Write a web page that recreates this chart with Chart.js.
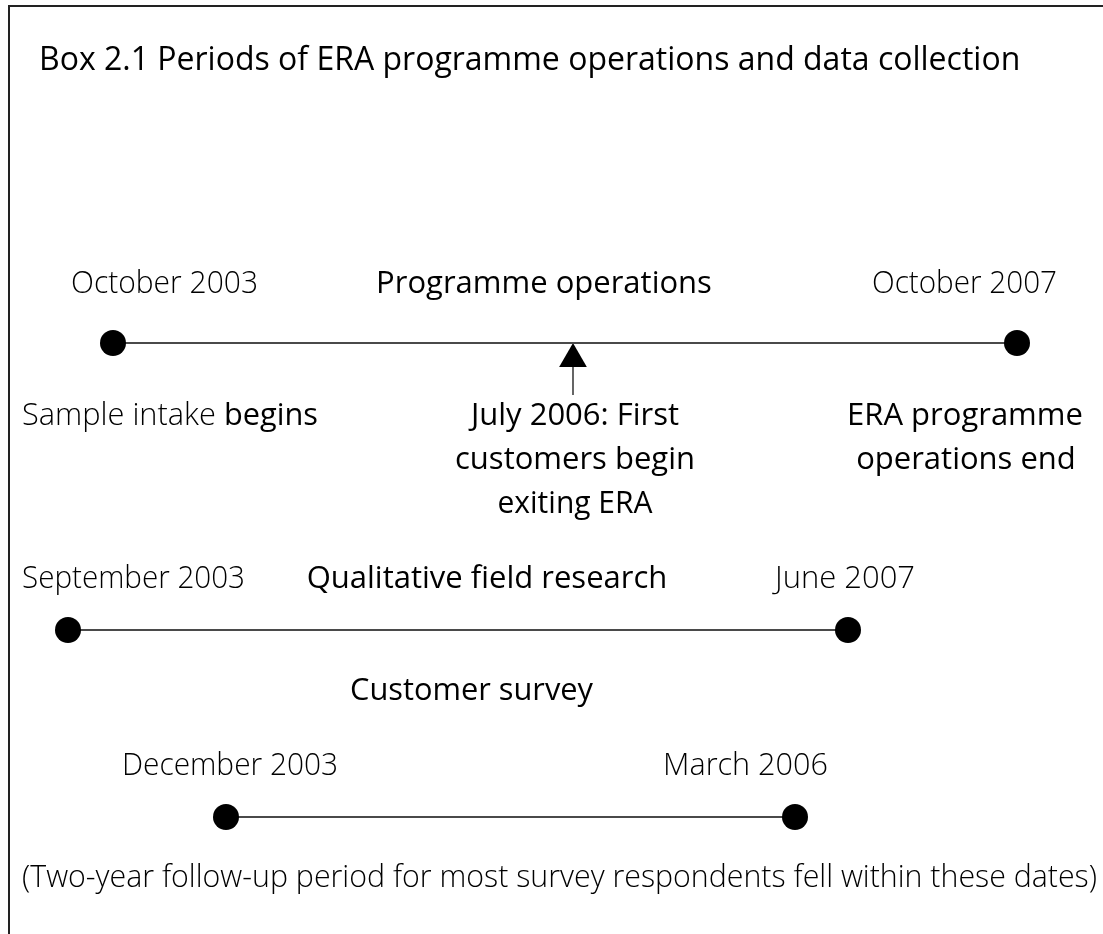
<!DOCTYPE html>
<html>
<head>
<meta charset="utf-8">
<script src="https://cdn.jsdelivr.net/npm/chart.js@4.4.1/dist/chart.umd.min.js"></script>
<style>
  body { margin: 0; background: #fff; }
  canvas { display: block; }
</style>
</head>
<body>
<canvas id="timeline" width="1103" height="934"></canvas>
<script>
// Timeline rows: schematic position along the line, and the row each period sits on
const periodNames = ['Programme operations', 'Qualitative field research', 'Customer survey'];
const startLabels = ['October 2003', 'September 2003', 'December 2003'];
const endLabels = ['October 2007', 'June 2007', 'March 2006'];
const startPos = [113, 68, 226];
const endPos = [1017, 848, 795];
const rowPos = [343, 630, 817];

// Milestone on the first row
const milestoneLabel = ['July 2006: First', 'customers begin', 'exiting ERA'];
const milestonePos = 573;

const titleText = 'Box 2.1 Periods of ERA programme operations and data collection';
const footText = '(Two-year follow-up period for most survey respondents fell within these dates)';

const FONT = '"Open Sans", "Noto Sans", sans-serif';
const MED = 500;   // heading weight
const LIGHT = 300; // date weight

// Build one line dataset per period
let datasets = periodNames.map((name, i) => ({
  label: name,
  data: [{ x: startPos[i], y: rowPos[i] }, { x: endPos[i], y: rowPos[i] }],
  borderColor: '#4a4a4a',
  borderWidth: 2,
  pointRadius: 13,
  pointBackgroundColor: '#000',
  pointBorderWidth: 0,
  showLine: true
}));

// arrow head (triangle point) and its stem
datasets.push({
  label: 'arrow',
  data: [{ x: milestonePos, y: rowPos[0] + 16 }],
  pointStyle: 'triangle',
  pointRadius: 16,
  pointBackgroundColor: '#000',
  pointBorderWidth: 0,
  showLine: false
});
datasets.push({
  label: 'stem',
  data: [{ x: milestonePos, y: rowPos[0] + 22 }, { x: milestonePos, y: rowPos[0] + 52 }],
  borderColor: '#000',
  borderWidth: 1.2,
  pointRadius: 0,
  showLine: true
});

// draw text with a target width (squeezes when wider)
function drawText(ctx, text, x, y, align, weight, size, width) {
  ctx.font = weight + ' ' + size + 'px ' + FONT;
  ctx.textAlign = align;
  ctx.textBaseline = 'alphabetic';
  ctx.fillStyle = '#000';
  ctx.fillText(text, x, y, width);
}

const boxPlugin = {
  id: 'boxPlugin',
  beforeDraw(chart) {
    const ctx = chart.ctx;
    ctx.save();
    ctx.strokeStyle = '#222';
    ctx.lineWidth = 2;
    ctx.beginPath();
    ctx.moveTo(9, 934);
    ctx.lineTo(9, 6);
    ctx.lineTo(1103, 6);
    ctx.stroke();
    ctx.restore();
  },
  afterDraw(chart) {
    const ctx = chart.ctx;
    const xs = chart.scales.x;
    ctx.save();
    drawText(ctx, titleText, 39, 70, 'left', 400, 32, 988);

    // row 1
    drawText(ctx, startLabels[0], 71, 293, 'left', LIGHT, 31, 187);
    drawText(ctx, periodNames[0], 544, 293, 'center', MED, 31, 343);
    drawText(ctx, endLabels[0], 872, 293, 'left', LIGHT, 31, 185);

    ctx.font = LIGHT + ' 31px ' + FONT;
    let w1 = ctx.measureText('Sample intake ').width;
    ctx.font = MED + ' 31px ' + FONT;
    let w2 = ctx.measureText('begins').width;
    let k = Math.min(1, 296 / (w1 + w2));
    ctx.save();
    ctx.translate(22, 425);
    ctx.scale(k, 1);
    drawText(ctx, 'Sample intake ', 0, 0, 'left', LIGHT, 31);
    drawText(ctx, 'begins', w1, 0, 'left', MED, 31);
    ctx.restore();

    const mx = xs.getPixelForValue(milestonePos) + 2;
    drawText(ctx, milestoneLabel[0], mx, 425, 'center', MED, 31, 210);
    drawText(ctx, milestoneLabel[1], mx, 469, 'center', MED, 31, 240);
    drawText(ctx, milestoneLabel[2], mx, 513, 'center', MED, 31, 155);

    drawText(ctx, 'ERA programme', 965, 425, 'center', MED, 31, 256);
    drawText(ctx, 'operations end', 966, 469, 'center', MED, 31, 231);

    // row 2
    drawText(ctx, startLabels[1], 22, 588, 'left', LIGHT, 31, 223);
    drawText(ctx, periodNames[1], 487, 588, 'center', MED, 31, 370);
    drawText(ctx, endLabels[1], 775, 588, 'left', LIGHT, 31, 140);

    // row 3
    drawText(ctx, periodNames[2], 350, 700, 'left', MED, 31, 243);
    drawText(ctx, startLabels[2], 122, 775, 'left', LIGHT, 31, 216);
    drawText(ctx, endLabels[2], 663, 775, 'left', LIGHT, 31, 165);

    drawText(ctx, footText, 22, 887, 'left', LIGHT, 31, 1075);
    ctx.restore();
  }
};

new Chart(document.getElementById('timeline'), {
  type: 'line',
  data: { datasets: datasets },
  options: {
    responsive: false,
    animation: false,
    events: [],
    layout: { padding: 0, autoPadding: false },
    plugins: {
      legend: { display: false },
      tooltip: { enabled: false },
      title: { display: false }
    },
    scales: {
      x: { type: 'linear', min: 0, max: 1103, display: false },
      y: { type: 'linear', min: 0, max: 934, reverse: true, display: false }
    }
  },
  plugins: [boxPlugin]
});
</script>
</body>
</html>
